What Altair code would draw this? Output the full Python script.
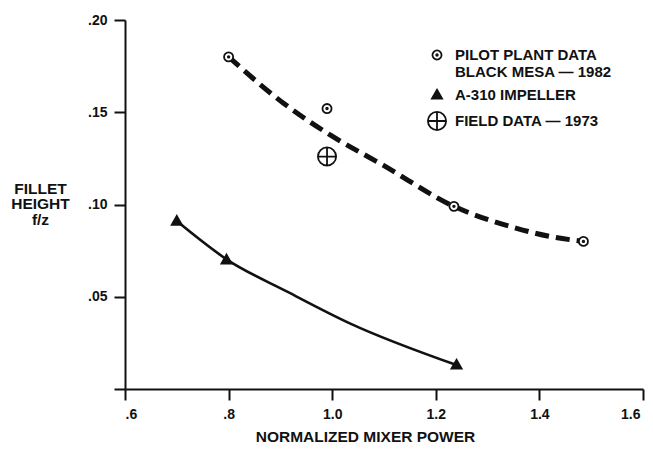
import altair as alt
import pandas as pd

FONT = "Liberation Sans"
INK = "#111111"

# ---- data ----
series_names = ["PILOT PLANT DATA\nBLACK MESA \u2014 1982", "A-310 IMPELLER", "FIELD DATA \u2014 1973"]

pilot_x = [0.80, 0.99, 1.235, 1.485]
pilot_y = [0.180, 0.152, 0.099, 0.080]

impeller_x = [0.70, 0.796, 1.24]
impeller_y = [0.091, 0.070, 0.013]

field_x = [0.99]
field_y = [0.126]

# fitted curves as drawn in the picture
dashed_x = [0.80, 0.906, 0.996, 1.099, 1.235, 1.356, 1.42, 1.485]
dashed_y = [0.180, 0.1549, 0.1377, 0.1212, 0.099, 0.0871, 0.0827, 0.080]

solid_x = [0.70, 0.796, 0.915, 1.034, 1.24]
solid_y = [0.091, 0.0703, 0.0525, 0.0356, 0.013]

x_ticks = [0.6, 0.8, 1.0, 1.2, 1.4, 1.6]
x_tick_labels = [".6", ".8", "1.0", "1.2", "1.4", "1.6"]
y_ticks = [0.0, 0.05, 0.10, 0.15, 0.20]
y_tick_labels = ["", ".05", ".10", ".15", ".20"]

x_title = "NORMALIZED MIXER POWER"
y_title = ["FILLET", "HEIGHT", "f/z"]

# ---- tables ----
pts = pd.DataFrame(
    {
        "x": pilot_x + impeller_x + field_x,
        "y": pilot_y + impeller_y + field_y,
        "series": [series_names[0]] * len(pilot_x)
        + [series_names[1]] * len(impeller_x)
        + [series_names[2]] * len(field_x),
    }
)
dashed = pd.DataFrame({"x": dashed_x, "y": dashed_y})
solid = pd.DataFrame({"x": solid_x, "y": solid_y})


def label_expr(ticks, labels):
    keys = ", ".join(f"'{t:.2f}'" for t in ticks)
    vals = ", ".join(f"'{l}'" for l in labels)
    return f"[{vals}][indexof([{keys}], format(datum.value, '.2f'))]"


x_scale = alt.Scale(domain=[0.6, 1.6], nice=False, zero=False)
y_scale = alt.Scale(domain=[0.0, 0.2], nice=False)

x_axis = alt.Axis(
    values=x_ticks,
    labelExpr=label_expr(x_ticks, x_tick_labels),
    title=x_title,
    titleX=240,
    titleY=40,
    titleAlign="center",
    titleBaseline="top",
    titleFontSize=15.5,
    labelPadding=7,
    labelOffset={"condition": {"test": "datum.value > 1.59", "value": -3}, "value": 0},
)
y_axis = alt.Axis(
    values=y_ticks,
    labelExpr=label_expr(y_ticks, y_tick_labels),
    title=y_title,
    titleAngle=0,
    titleX=-85,
    titleY=161,
    titleAlign="center",
    titleBaseline="top",
    titleLineHeight=15.5,
    titleFontSize=15.5,
    labelPadding=7,
)

X = alt.X("x:Q", scale=x_scale, axis=x_axis)
Y = alt.Y("y:Q", scale=y_scale, axis=y_axis)

# marker outlines drawn inside the unit box; the symbol box is 18 px wide
dot_path = (
    "M -0.5 0 A 0.5 0.5 0 1 0 0.5 0 A 0.5 0.5 0 1 0 -0.5 0 "
    "M -0.09 0 A 0.09 0.09 0 1 0 0.09 0 A 0.09 0.09 0 1 0 -0.09 0"
)
tri_path = "M 0 -0.58 L 0.56 0.4 L -0.56 0.4 Z"
cross_path = "M -1 0 A 1 1 0 1 0 1 0 A 1 1 0 1 0 -1 0 M -1 0 L 1 0 M 0 -1 L 0 1"
MARK_SIZE = 330

leg = alt.Legend(
    title=None,
    orient="none",
    legendX=302,
    legendY=25,
    labelExpr="split(datum.label, '\\n')",
    labelFont=FONT,
    labelFontSize=15,
    labelFontWeight="bold",
    labelColor=INK,
    labelOffset=8,
    symbolSize=MARK_SIZE,
    symbolStrokeColor=INK,
    symbolStrokeWidth=1.8,
    rowPadding=5,
    padding=0,
)

dash_line = (
    alt.Chart(dashed)
    .mark_line(color=INK, strokeWidth=5, strokeDash=[14, 7], interpolate="monotone")
    .encode(x=X, y=Y)
)
solid_line = (
    alt.Chart(solid)
    .mark_line(color=INK, strokeWidth=2.6, interpolate="monotone")
    .encode(x=X, y=Y)
)
points = (
    alt.Chart(pts)
    .mark_point(filled=True, strokeWidth=1.8, opacity=1, size=MARK_SIZE)
    .encode(
        x=X,
        y=Y,
        shape=alt.Shape(
            "series:N",
            scale=alt.Scale(domain=series_names, range=[dot_path, tri_path, cross_path]),
            legend=leg,
        ),
        fill=alt.Fill(
            "series:N",
            scale=alt.Scale(domain=series_names, range=["white", INK, "white"]),
            legend=leg,
        ),
        stroke=alt.Stroke(
            "series:N",
            scale=alt.Scale(domain=series_names, range=[INK, INK, INK]),
            legend=leg,
        ),
    )
)

chart = (
    alt.layer(dash_line, solid_line, points)
    .properties(
        width=518,
        height=369,
        autosize=alt.AutoSizeParams(type="none"),
        padding={"left": 117, "top": 12, "right": 2, "bottom": 55},
        background="white",
    )
    .configure_view(stroke=None)
    .configure_axis(
        grid=False,
        domainColor=INK,
        domainWidth=2,
        tickColor=INK,
        tickWidth=2,
        tickSize=11,
        labelFont=FONT,
        labelFontSize=14,
        labelFontWeight="bold",
        labelColor=INK,
        titleFont=FONT,
        titleFontWeight="bold",
        titleColor=INK,
    )
)

chart.save("out.html", embed_options={"renderer": "svg", "actions": False})
